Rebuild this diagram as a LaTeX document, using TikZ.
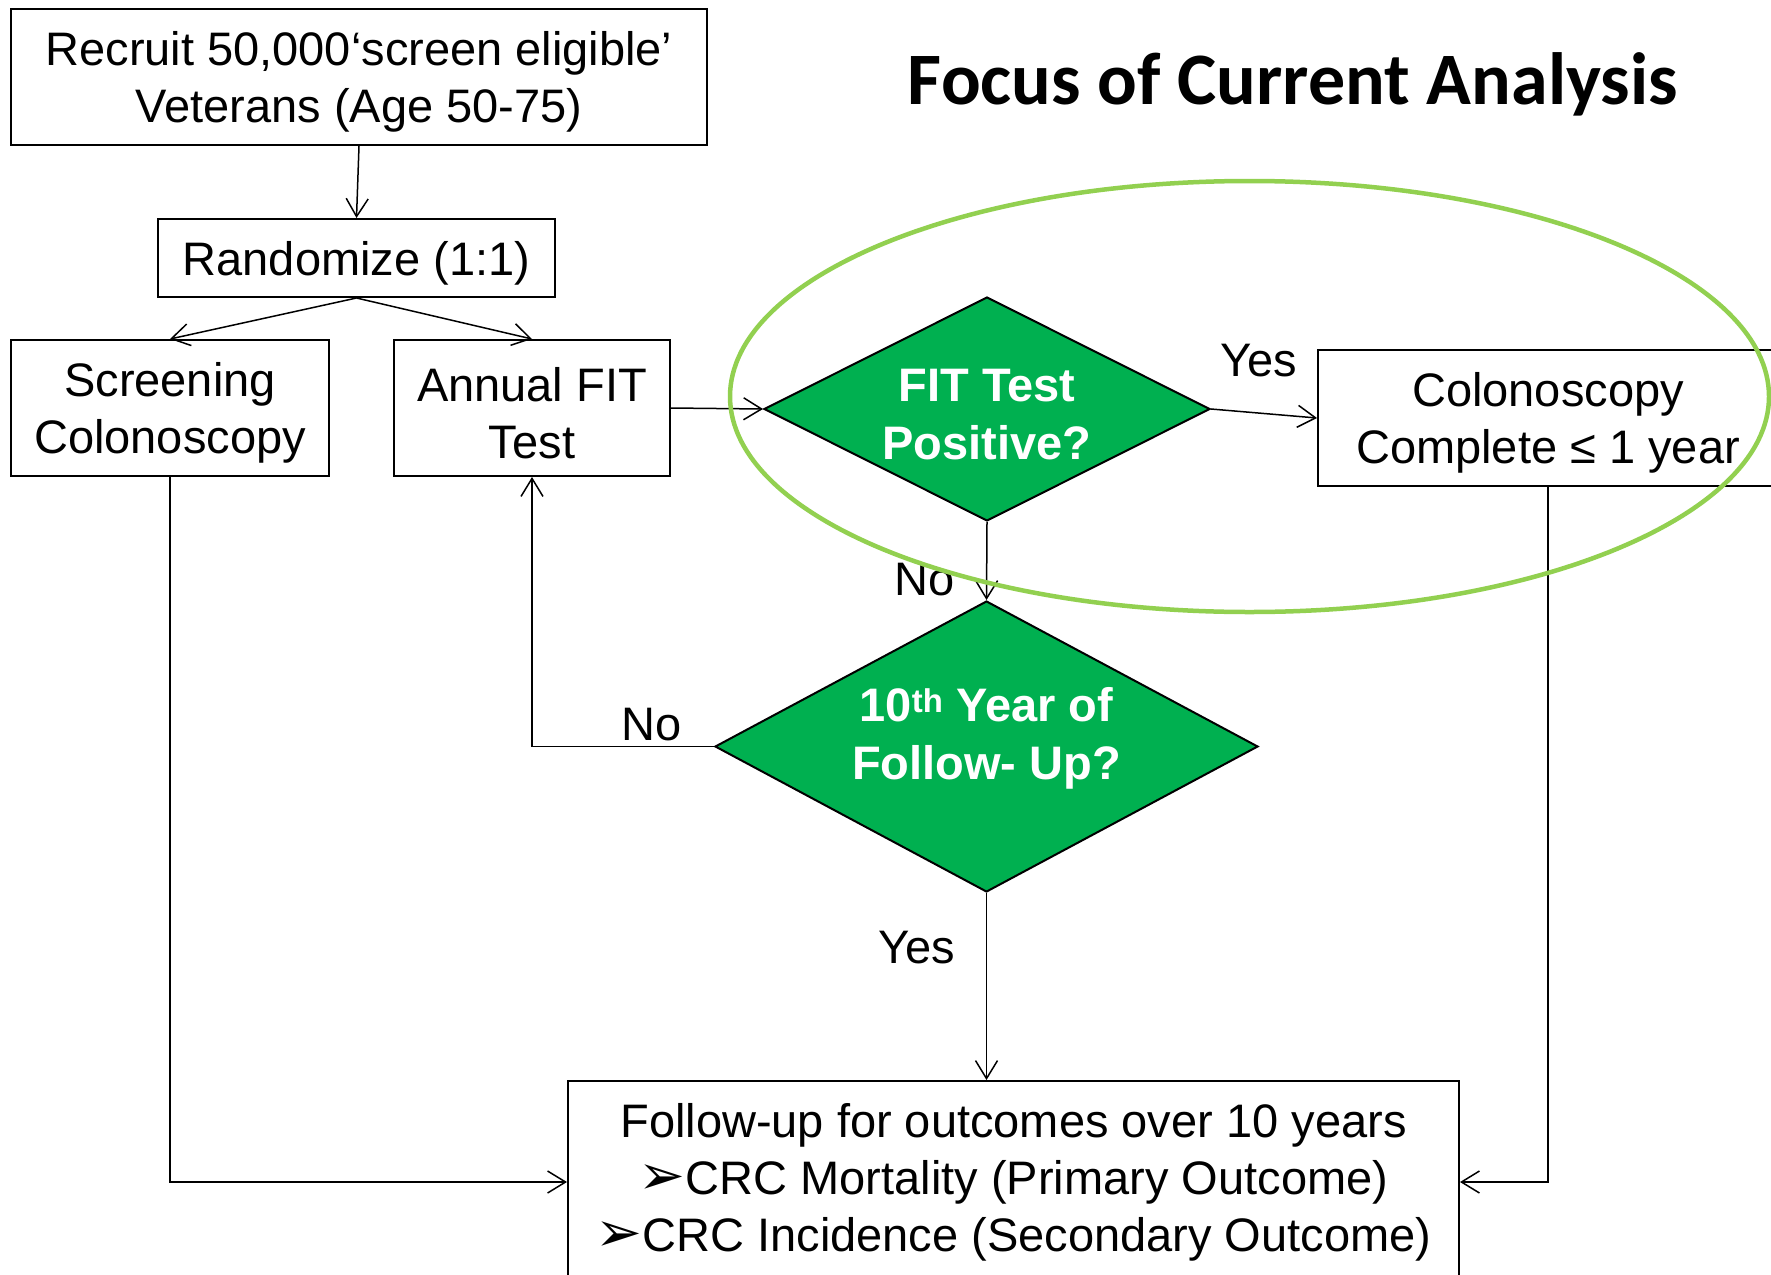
\documentclass[tikz,border=0pt]{standalone}
\usepackage{fontspec}
\setmainfont{Liberation Sans}
\newfontfamily\titlefont{Carlito}
\newfontfamily\dejavu{DejaVu Sans}
\usetikzlibrary{shapes.geometric,arrows.meta}
\definecolor{fitgreen}{RGB}{0,176,80}
\definecolor{ringgreen}{RGB}{146,208,80}
\newcommand{\topstrut}{\rule{0pt}{44pt}}
\newcommand{\bulletarrow}{{\dejavu\fontsize{56}{57}\selectfont ➢}}
\tikzset{
  box/.style={draw, line width=2pt, inner sep=0pt, align=center, font=\fontsize{47}{57}\selectfont},
  decision/.style={diamond, draw, line width=2pt, fill=fitgreen, inner sep=0pt, aspect=2, align=center,
     text=white, font=\fontsize{47}{58}\selectfont\bfseries},
  conn/.style={line width=1.5pt, -{Straight Barb[length=18pt,width=22pt]}},
  lbl/.style={anchor=base, inner sep=0pt, font=\fontsize{47}{57}\selectfont}
}
\begin{document}
\begin{tikzpicture}[x=1pt,y=-1pt]
\useasboundingbox (0,0) rectangle (1771,1274);
\fill[white] (0,0) rectangle (1771,1274);

\node[box, minimum width=696pt, minimum height=136pt] (recruit) at (359,77)
  {\topstrut Recruit 50,000‘screen eligible’\\Veterans (Age 50-75)};
\node[box, minimum width=397pt, minimum height=78pt] (rand) at (356.5,258)
  {\topstrut Randomize (1:1)};
\node[box, minimum width=318pt, minimum height=136pt] (screen) at (170,408)
  {\topstrut Screening\\Colonoscopy};
\node[box, minimum width=276pt, minimum height=136pt] (annual) at (532,408)
  {\topstrut Annual FIT\\Test};
\node[decision, minimum width=446pt, minimum height=224pt] (fit) at (987,409)
  {\topstrut FIT Test\\Positive?};
\node[decision, minimum width=543pt, minimum height=291pt] (tenth) at (986.5,746.5)
  {10\textsuperscript{th} Year of\\Follow- Up?\rule[-26pt]{0pt}{0pt}};
\node[box, minimum width=460pt, minimum height=136pt] (colo) at (1548,418)
  {\topstrut Colonoscopy\\Complete ≤ 1 year};
\node[box, minimum width=891pt, minimum height=202pt] (follow) at (1013.5,1182)
  {Follow-up for outcomes over 10 years\\
   \bulletarrow CRC Mortality (Primary Outcome)\\
   \bulletarrow CRC Incidence (Secondary Outcome)};

\node[anchor=base, inner sep=0pt, font=\titlefont\bfseries\fontsize{74}{80}\selectfont] (title) at (1293,104)
  {Focus of Current Analysis};

\draw[conn] (recruit.south) -- (rand.north);
\draw[conn] (rand.south) -- (screen.north);
\draw[conn] (rand.south) -- (annual.north);
\draw[conn] (screen.south) |- (follow.west);
\draw[conn] (annual.east) -- (fit.west);
\draw[conn] (fit.east) -- (colo.west);
\draw[conn] (fit.south) -- (tenth.north);
\draw[conn] (tenth.west) -| (annual.south);
\draw[conn] (tenth.south) -- (tenth.south |- follow.north);
\draw[conn] (colo.south) |- (follow.east);

\node[lbl] (yes1) at (1259,376) {Yes};
\node[lbl] (no1) at (925,595) {No};
\node[lbl] (no2) at (652,740) {No};
\node[lbl] (yes2) at (917,963) {Yes};

\draw[ringgreen, line width=4.5pt] (1249.5,396.5) ellipse [x radius=519.5, y radius=215.5];
\end{tikzpicture}
\end{document}
